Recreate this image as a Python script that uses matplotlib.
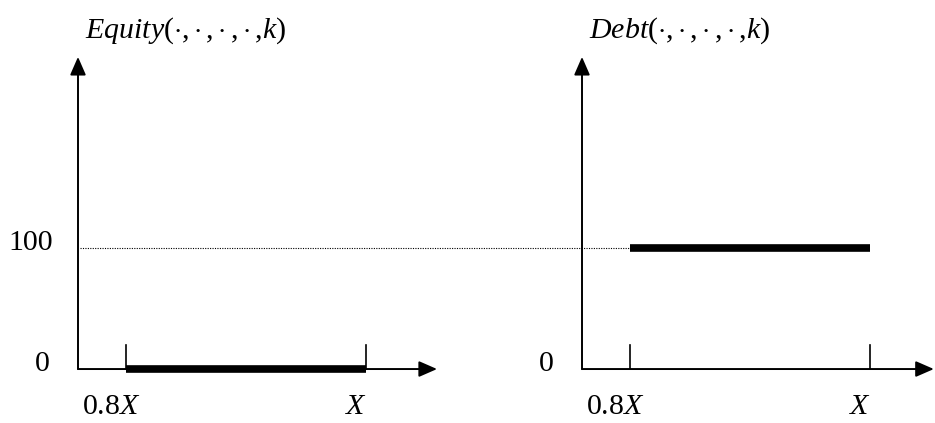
import matplotlib.pyplot as plt

plt.rcParams['mathtext.fontset'] = 'custom'
plt.rcParams['mathtext.rm'] = 'Liberation Serif'
plt.rcParams['mathtext.it'] = 'Liberation Serif:italic'
plt.rcParams['font.family'] = 'Liberation Serif'

# panel data: payoff level over the range [0.8X, X]
panels = ['Equity', 'Debt']
payoff = [0, 100]
y_levels = [0, 100]
y_labels = ['0', '100']
x_ticks = [1.0, 6.0]          # schematic positions of 0.8X and X
x_tick_labels = ['0.8$X$', '$X$']
offsets = [0.0, 10.5]         # where each panel's origin sits
x_end = [7.48, 7.33]
y_end = 258

fig = plt.figure(figsize=(9.35, 4.23), dpi=100)
ax = fig.add_axes([0, 0, 1, 1])
ax.set_xlim(-1.625, 17.854)
ax.set_ylim(-44.6, 305)
ax.axis('off')

fs = 21.5
arrow = dict(arrowstyle='-|>,head_length=0.55,head_width=0.24', mutation_scale=20,
             lw=1.4, color='black', shrinkA=0, shrinkB=0)

for name, level, off, xe in zip(panels, payoff, offsets, x_end):
    # axes with arrow heads
    ax.annotate('', xy=(off + xe, 0), xytext=(off, 0), arrowprops=arrow)
    ax.annotate('', xy=(off, y_end), xytext=(off, 0), arrowprops=arrow)
    # ticks at 0.8X and X
    for xt in x_ticks:
        ax.plot([off + xt, off + xt], [0, 20], color='black', lw=1.2)
    ax.text(off + x_ticks[0] - 0.31, -31, x_tick_labels[0], fontsize=fs,
            ha='center', va='center')
    ax.text(off + x_ticks[1], -31, x_tick_labels[1], fontsize=fs,
            ha='right', va='center')
    # payoff segment
    ax.plot([off + x_ticks[0], off + x_ticks[1]], [level, level], color='black',
            lw=5.5, solid_capstyle='butt')
    ax.text(off + 0.14, 280, r'$%s(\cdot{,}\cdot{,}\cdot{,}\cdot{,}k)$' % name,
            fontsize=fs, ha='left', va='center')
    ax.text(off - 0.58, 4, y_labels[0], fontsize=fs, ha='right', va='center')

# 100 label and dotted guide to the debt segment
ax.text(-0.52, y_levels[1] + 4, y_labels[1], fontsize=fs, ha='right', va='center')
ax.plot([0.05, offsets[1] + x_ticks[0]], [y_levels[1], y_levels[1]], color='black',
        lw=0.8, linestyle=(0, (1, 1.2)))

fig.savefig('out.png', dpi=100)
